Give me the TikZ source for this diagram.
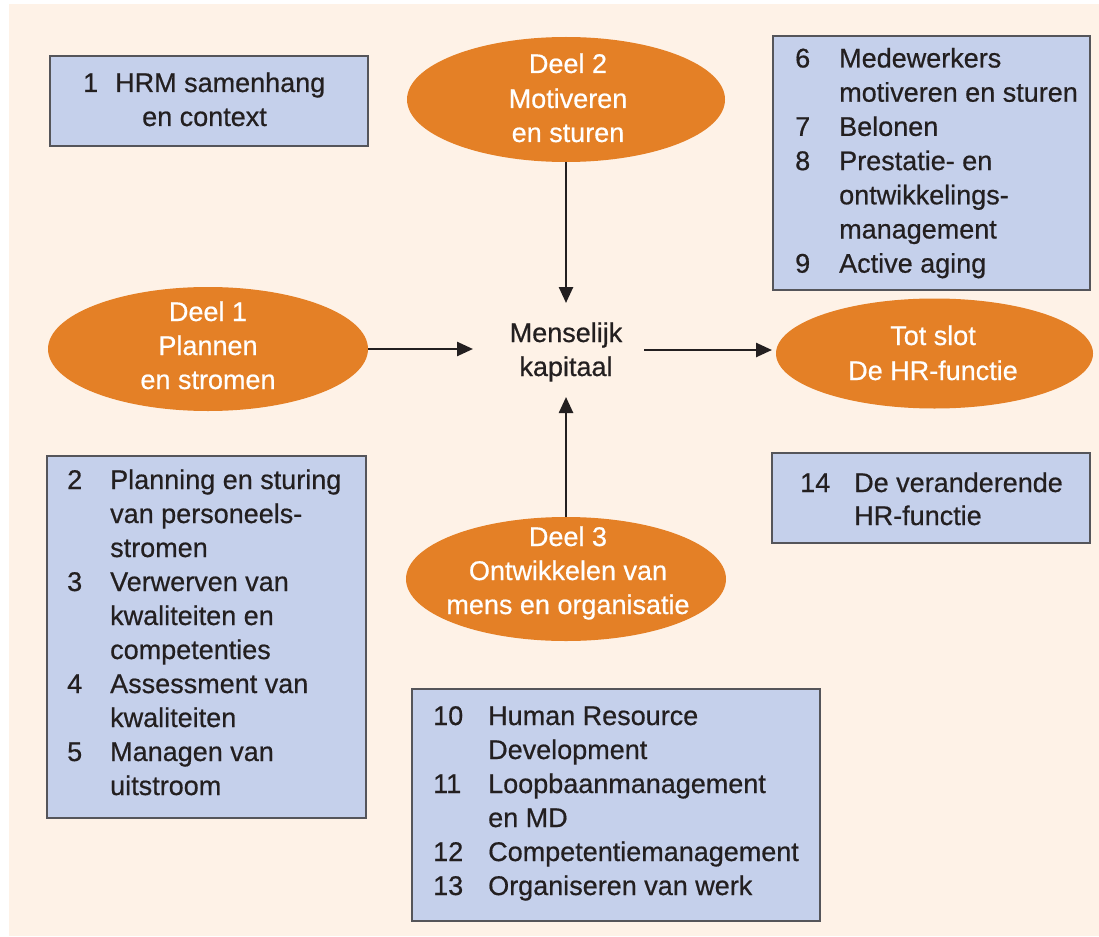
\documentclass[tikz,border=0pt]{standalone}
\usepackage{fontspec}
\setmainfont{Liberation Sans}[FakeBold=0.6]
\usetikzlibrary{shapes.geometric,arrows.meta}
\definecolor{cream}{RGB}{254,242,231}
\definecolor{orangefill}{RGB}{228,128,38}
\definecolor{boxfill}{RGB}{197,208,235}
\definecolor{boxline}{RGB}{85,85,90}
\definecolor{ink}{RGB}{35,31,32}
\tikzset{
  box/.style={draw=boxline, line width=1.6pt, fill=boxfill, anchor=north west, inner sep=0, outer sep=0},
  part/.style={ellipse, fill=orangefill, draw=none, inner sep=0, outer sep=0},
  txt/.style={anchor=base west, inner sep=0, text=ink, font=\fontsize{27}{34}\selectfont},
  wtxt/.style={anchor=base, inner sep=0, text=white, font=\fontsize{27}{34}\selectfont},
  ctxt/.style={anchor=base, inner sep=0, text=ink, font=\fontsize{27}{34}\selectfont},
  arr/.style={draw=ink, line width=2.5pt, -{Triangle[length=16pt,width=14pt]}}
}
\begin{document}
\begin{tikzpicture}[x=1pt,y=-1pt]
\useasboundingbox (0,0) rectangle (1099,936);
\fill[white] (0,0) rectangle (1099,936);
\fill[cream] (9,4) rectangle (1099,936);

% boxes
\node[box, minimum width=318pt, minimum height=90pt] (b1) at (50,56) {};
\node[box, minimum width=319pt, minimum height=362pt] (b2) at (47,456) {};
\node[box, minimum width=317pt, minimum height=254pt] (b6) at (773,36) {};
\node[box, minimum width=318pt, minimum height=90pt] (b14) at (772,453) {};
\node[box, minimum width=408pt, minimum height=232pt] (b10) at (412,689) {};

% box 1 text
\node[txt] (t1n) at (83,92) {1};
\node[txt] (t1a) at (115,92) {HRM samenhang};
\node[txt] (t1b) at (142,126) {en context};

% box 2-5 text
\node[txt] (n2) at (67,489) {2};
\node[txt] (l2a) at (110,489) {Planning en sturing};
\node[txt] (l2b) at (110,523) {van personeels-};
\node[txt] (l2c) at (110,557) {stromen};
\node[txt] (n3) at (67,591) {3};
\node[txt] (l3a) at (110,591) {Verwerven van};
\node[txt] (l3b) at (110,625) {kwaliteiten en};
\node[txt] (l3c) at (110,659) {competenties};
\node[txt] (n4) at (67,693) {4};
\node[txt] (l4a) at (110,693) {Assessment van};
\node[txt] (l4b) at (110,727) {kwaliteiten};
\node[txt] (n5) at (67,761) {5};
\node[txt] (l5a) at (110,761) {Managen van};
\node[txt] (l5b) at (110,795) {uitstroom};

% box 6-9 text
\node[txt] (n6) at (795,67.5) {6};
\node[txt] (l6a) at (839,67.5) {Medewerkers};
\node[txt] (l6b) at (839,101.7) {motiveren en sturen};
\node[txt] (n7) at (795,135.9) {7};
\node[txt] (l7a) at (839,135.9) {Belonen};
\node[txt] (n8) at (795,170.1) {8};
\node[txt] (l8a) at (839,170.1) {Prestatie- en};
\node[txt] (l8b) at (839,204.3) {ontwikkelings-};
\node[txt] (l8c) at (839,238.5) {management};
\node[txt] (n9) at (795,272.7) {9};
\node[txt] (l9a) at (839,272.7) {Active aging};

% box 14 text
\node[txt] (n14) at (800,492) {14};
\node[txt] (l14a) at (854,492) {De veranderende};
\node[txt] (l14b) at (854,525) {HR-functie};

% box 10-13 text
\node[txt] (n10) at (433,725) {10};
\node[txt] (l10a) at (488,725) {Human Resource};
\node[txt] (l10b) at (488,759) {Development};
\node[txt] (n11) at (433,793) {11};
\node[txt] (l11a) at (488,793) {Loopbaanmanagement};
\node[txt] (l11b) at (488,827) {en MD};
\node[txt] (n12) at (433,861) {12};
\node[txt] (l12a) at (488,861) {Competentiemanagement};
\node[txt] (n13) at (433,895) {13};
\node[txt] (l13a) at (488,895) {Organiseren van werk};

% ellipses
\node[part, minimum width=320pt, minimum height=124pt] (d1) at (208,349) {};
\node[part, minimum width=318pt, minimum height=125pt] (d2) at (566,99.5) {};
\node[part, minimum width=320pt, minimum height=124pt] (d3) at (566,579) {};
\node[part, minimum width=317pt, minimum height=110pt] (ts) at (934.5,353.5) {};

\node[wtxt] (d1a) at (208,321) {Deel 1};
\node[wtxt] (d1b) at (208,355) {Plannen};
\node[wtxt] (d1c) at (208,389) {en stromen};

\node[wtxt] (d2a) at (568,73) {Deel 2};
\node[wtxt] (d2b) at (568,108) {Motiveren};
\node[wtxt] (d2c) at (568,142) {en sturen};

\node[wtxt] (d3a) at (568,546) {Deel 3};
\node[wtxt] (d3b) at (568,580) {Ontwikkelen van};
\node[wtxt] (d3c) at (568,614) {mens en organisatie};

\node[wtxt] (tsa) at (933,345) {Tot slot};
\node[wtxt] (tsb) at (933,380) {De HR-functie};

% centre
\node[inner sep=0, outer sep=0, minimum width=171pt, minimum height=94pt] (mk) at (558.5,350) {};
\node[ctxt] (mka) at (566,342) {Menselijk};
\node[ctxt] (mkb) at (566,376) {kapitaal};

% connectors
\draw[arr] (d1.east) -- (d1.east -| mk.west);
\draw[arr] (d2.south) -- (d2.south |- mk.north);
\draw[arr] (d3.north) -- (d3.north |- mk.south);
\draw[arr, shorten >=4pt] (mk.east) -- (mk.east -| ts.west);
\end{tikzpicture}
\end{document}
